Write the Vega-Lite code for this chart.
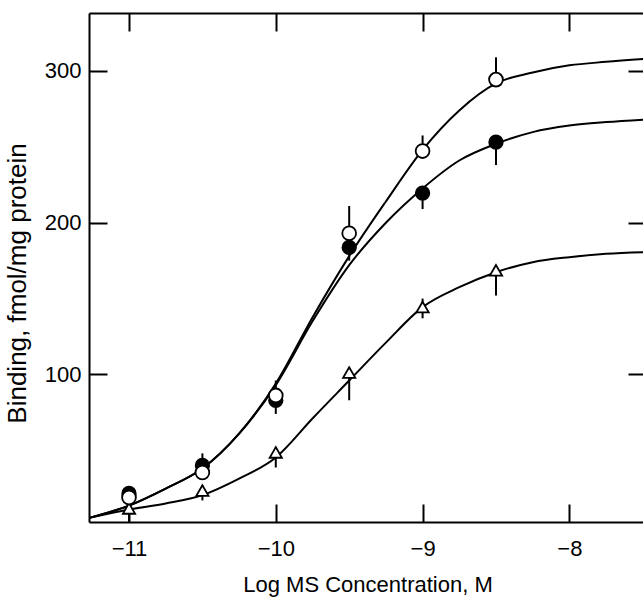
{
  "$schema": "https://vega.github.io/schema/vega-lite/v6.json",
  "width": 557,
  "height": 509,
  "autosize": {"type": "none"},
  "padding": {"left": 89, "top": 13, "right": 0, "bottom": 75},
  "background": "white",
  "config": {
    "view": {"stroke": null},
    "axis": {
      "domainColor": "black", "domainWidth": 2,
      "tickColor": "black", "tickWidth": 2, "tickSize": -18,
      "grid": false,
      "labelFont": "Liberation Sans", "labelFontSize": 22, "labelColor": "black",
      "titleFont": "Liberation Sans", "titleColor": "black", "titleFontWeight": "normal"
    }
  },
  "datasets": {
    "curves": [
      {"x": -11.27, "y": 5.5, "s": "open"},
      {"x": -11.0, "y": 13.6, "s": "open"},
      {"x": -10.75, "y": 24.8, "s": "open"},
      {"x": -10.5, "y": 38, "s": "open"},
      {"x": -10.25, "y": 61, "s": "open"},
      {"x": -10.0, "y": 94, "s": "open"},
      {"x": -9.75, "y": 137.6, "s": "open"},
      {"x": -9.5, "y": 178, "s": "open"},
      {"x": -9.25, "y": 214, "s": "open"},
      {"x": -9.0, "y": 248, "s": "open"},
      {"x": -8.75, "y": 274, "s": "open"},
      {"x": -8.5, "y": 291.8, "s": "open"},
      {"x": -8.25, "y": 299, "s": "open"},
      {"x": -8.0, "y": 303.7, "s": "open"},
      {"x": -7.75, "y": 306, "s": "open"},
      {"x": -7.478, "y": 308, "s": "open"},
      {"x": -11.27, "y": 5.5, "s": "filled"},
      {"x": -11.0, "y": 13.6, "s": "filled"},
      {"x": -10.75, "y": 24.8, "s": "filled"},
      {"x": -10.5, "y": 38, "s": "filled"},
      {"x": -10.25, "y": 61, "s": "filled"},
      {"x": -10.0, "y": 93, "s": "filled"},
      {"x": -9.75, "y": 135, "s": "filled"},
      {"x": -9.5, "y": 172, "s": "filled"},
      {"x": -9.25, "y": 200, "s": "filled"},
      {"x": -9.0, "y": 222.6, "s": "filled"},
      {"x": -8.75, "y": 241, "s": "filled"},
      {"x": -8.5, "y": 252, "s": "filled"},
      {"x": -8.25, "y": 259.7, "s": "filled"},
      {"x": -8.0, "y": 264, "s": "filled"},
      {"x": -7.75, "y": 266.3, "s": "filled"},
      {"x": -7.478, "y": 268, "s": "filled"},
      {"x": -11.27, "y": 5.5, "s": "tri"},
      {"x": -11.0, "y": 11, "s": "tri"},
      {"x": -10.75, "y": 15, "s": "tri"},
      {"x": -10.5, "y": 20.5, "s": "tri"},
      {"x": -10.25, "y": 31.4, "s": "tri"},
      {"x": -10.0, "y": 45.3, "s": "tri"},
      {"x": -9.75, "y": 71, "s": "tri"},
      {"x": -9.5, "y": 96, "s": "tri"},
      {"x": -9.25, "y": 121, "s": "tri"},
      {"x": -9.0, "y": 144.4, "s": "tri"},
      {"x": -8.75, "y": 157.5, "s": "tri"},
      {"x": -8.5, "y": 167.4, "s": "tri"},
      {"x": -8.25, "y": 174, "s": "tri"},
      {"x": -8.0, "y": 177.3, "s": "tri"},
      {"x": -7.75, "y": 179.5, "s": "tri"},
      {"x": -7.478, "y": 180.6, "s": "tri"}
    ],
    "points": [
      {"x": -11.0, "y": 18.9, "lo": 18.9, "hi": 18.9, "s": "open"},
      {"x": -10.5, "y": 35.4, "lo": 35.4, "hi": 35.4, "s": "open"},
      {"x": -10.0, "y": 86.2, "lo": 86.2, "hi": 96, "s": "open"},
      {"x": -9.5, "y": 193, "lo": 193, "hi": 211, "s": "open"},
      {"x": -9.0, "y": 247.2, "lo": 247.2, "hi": 257.5, "s": "open"},
      {"x": -8.5, "y": 294.3, "lo": 294.3, "hi": 309, "s": "open"},
      {"x": -11.0, "y": 21.6, "lo": 21.6, "hi": 21.6, "s": "filled"},
      {"x": -10.5, "y": 40, "lo": 40, "hi": 48, "s": "filled"},
      {"x": -10.0, "y": 82.9, "lo": 74, "hi": 82.9, "s": "filled"},
      {"x": -9.5, "y": 183.7, "lo": 175, "hi": 183.7, "s": "filled"},
      {"x": -9.0, "y": 219.5, "lo": 209, "hi": 222, "s": "filled"},
      {"x": -8.5, "y": 253.1, "lo": 238, "hi": 253.1, "s": "filled"},
      {"x": -11.0, "y": 11.7, "lo": 3, "hi": 11.7, "s": "tri"},
      {"x": -10.5, "y": 23.5, "lo": 17, "hi": 27, "s": "tri"},
      {"x": -10.0, "y": 48.6, "lo": 38.7, "hi": 52, "s": "tri"},
      {"x": -9.5, "y": 101.3, "lo": 83, "hi": 104, "s": "tri"},
      {"x": -9.0, "y": 144.4, "lo": 137, "hi": 150, "s": "tri"},
      {"x": -8.5, "y": 168.6, "lo": 152, "hi": 172, "s": "tri"}
    ]
  },
  "resolve": {"axis": {"x": "independent", "y": "independent"}},
  "layer": [
    {
      "data": {"name": "curves"},
      "mark": {"type": "line", "interpolate": "monotone", "color": "black", "strokeWidth": 2, "clip": true},
      "encoding": {
        "x": {"field": "x", "type": "quantitative",
              "scale": {"domain": [-11.2725, -7.478], "nice": false, "zero": false},
              "axis": {"orient": "bottom", "values": [-11, -10, -9, -8], "labelPadding": 44,
                       "labelBaseline": "middle",
                       "title": "Log MS Concentration, M", "titleFontSize": 22,
                       "titleY": 62, "titleBaseline": "middle"}},
        "y": {"field": "y", "type": "quantitative",
              "scale": {"domain": [2.77, 338.2], "nice": false, "zero": false},
              "axis": {"orient": "left", "values": [100, 200, 300], "labelPadding": 26,
                       "title": "Binding, fmol/mg protein", "titleFontSize": 26,
                       "titleX": -72, "titleY": 270, "titleAngle": -90,
                       "titleBaseline": "middle", "titleAlign": "center"}},
        "detail": {"field": "s"}
      }
    },
    {
      "data": {"name": "points"},
      "mark": {"type": "rule", "color": "black", "strokeWidth": 2},
      "encoding": {
        "x": {"field": "x", "type": "quantitative",
              "axis": {"orient": "top", "values": [-11, -10, -9, -8], "labels": false, "title": null}},
        "y": {"field": "lo", "type": "quantitative",
              "axis": {"orient": "right", "values": [100, 200, 300], "labels": false, "title": null}},
        "y2": {"field": "hi"}
      }
    },
    {
      "data": {"name": "points"},
      "transform": [{"filter": "datum.s === 'tri'"}],
      "mark": {"type": "point", "shape": "triangle-up", "filled": true, "fill": "white", "stroke": "black", "strokeWidth": 1.8, "size": 150, "opacity": 1},
      "encoding": {
        "x": {"field": "x", "type": "quantitative", "axis": null},
        "y": {"field": "y", "type": "quantitative", "axis": null}
      }
    },
    {
      "data": {"name": "points"},
      "transform": [{"filter": "datum.s === 'filled'"}],
      "mark": {"type": "point", "shape": "circle", "filled": true, "fill": "black", "stroke": "black", "strokeWidth": 1.5, "size": 190, "opacity": 1},
      "encoding": {
        "x": {"field": "x", "type": "quantitative", "axis": null},
        "y": {"field": "y", "type": "quantitative", "axis": null}
      }
    },
    {
      "data": {"name": "points"},
      "transform": [{"filter": "datum.s === 'open'"}],
      "mark": {"type": "point", "shape": "circle", "filled": true, "fill": "white", "stroke": "black", "strokeWidth": 1.8, "size": 190, "opacity": 1},
      "encoding": {
        "x": {"field": "x", "type": "quantitative", "axis": null},
        "y": {"field": "y", "type": "quantitative", "axis": null}
      }
    }
  ]
}
